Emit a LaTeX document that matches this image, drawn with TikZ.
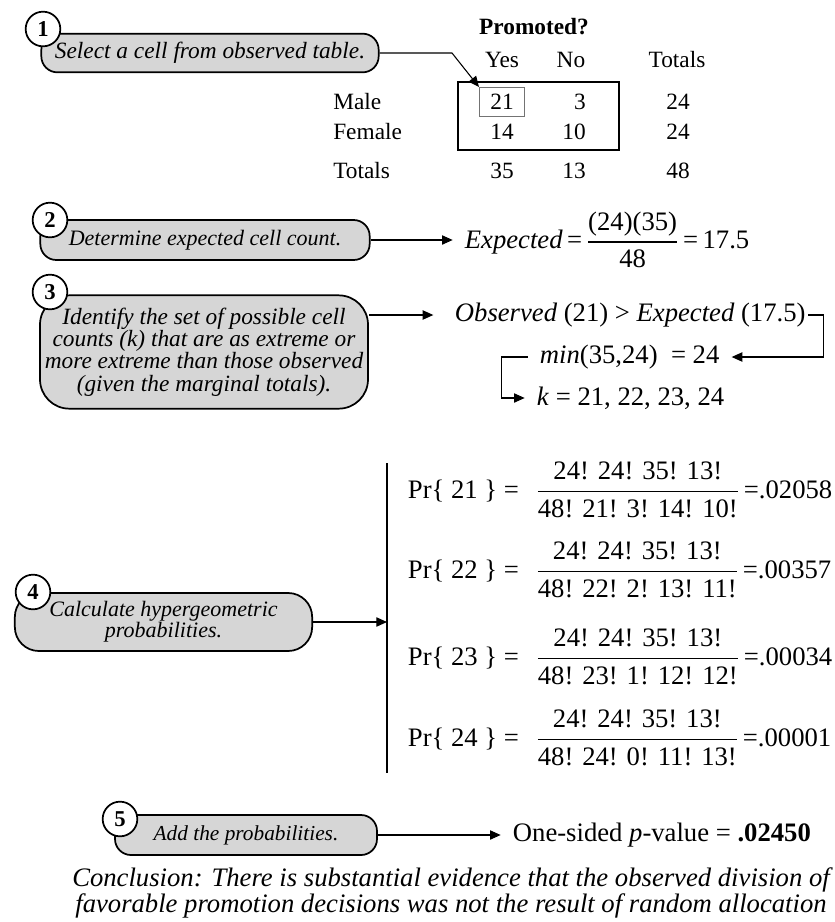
\documentclass[tikz,border=0pt]{standalone}
\usepackage{amsmath}
\usepackage{fontspec}
\setmainfont{Liberation Serif}
\usetikzlibrary{positioning,arrows.meta,calc}

\newcommand\boxfont{\fontsize{17.5}{16.8}\selectfont\itshape}
\newcommand\numfont{\fontsize{17}{17}\selectfont\bfseries}
\newcommand\tabfont{\fontsize{17.5}{20}\selectfont}
\newcommand\eqfont{\fontsize{20}{24}\selectfont}
\newcommand\concfont{\fontsize{20}{19}\selectfont\itshape}
\newcommand\fracbar[2]{\genfrac{}{}{1.1pt}{0}{\text{#1}}{\text{#2}}}

\begin{document}
\begin{tikzpicture}[x=0.75pt, y=-0.75pt,
  every node/.style={inner sep=2pt},
  stepbox/.style={draw, line width=1.3pt, fill=black!16, rounded corners=12pt, align=center, font=\boxfont, inner sep=0pt},
  stepnum/.style={circle, draw, line width=1.3pt, fill=white, minimum size=26pt, inner sep=0pt, font=\numfont},
  tab/.style={font=\tabfont, inner sep=0pt},
  eq/.style={font=\eqfont, anchor=west},
  link/.style={->, line width=0.8pt, shorten >=7pt},
  >={Triangle[length=8pt,width=7pt]}
]
\useasboundingbox (0,0) rectangle (835,922);

% step 1: pick a cell of the table
\node[stepbox, minimum width=253pt, minimum height=29pt] (box1) at (210,53) {Select a cell from observed table.};
\node[stepnum] (num1) at (43,29) {1};

\node[tab, font=\tabfont\bfseries] (promoted) at (534,27) {Promoted?};
\node[tab] (hyes) at (502,60) {Yes};
\node[tab] (hno) at (571,60) {No};
\node[tab] (htot) at (677,60) {Totals};
\node[tab, anchor=west] (male) at (333,102) {Male};
\node[tab, anchor=west] (female) at (333,132) {Female};
\node[tab, anchor=west] (totals) at (333,171) {Totals};

\node[draw, line width=1.4pt, minimum width=121pt, minimum height=51pt] (obs) at (538.5,116) {};
\node[tab, draw=black!55, line width=0.5pt, minimum width=34pt, minimum height=22pt] (c11) at (502,102) {21};
\node[tab, anchor=east] (c12) at (586,102) {3};
\node[tab] (c21) at (502,132) {14};
\node[tab, anchor=east] (c22) at (586,132) {10};
\node[tab] (m1) at (678,102) {24};
\node[tab] (m2) at (678,132) {24};
\node[tab] (t1) at (502,171) {35};
\node[tab, anchor=east] (t2) at (586,171) {13};
\node[tab] (tt) at (678,171) {48};

\coordinate (turn1) at (452,0);
\draw[->, line width=0.8pt] (box1.east) -- (box1.east -| turn1) -- (c11.north west);

% step 2
\node[stepbox, font=\boxfont\fontsize{16.5}{16}\selectfont, minimum width=247pt, minimum height=30pt] (box2) at (205,240) {Determine expected cell count.};
\node[stepnum] (num2) at (50,220) {2};
\node[eq] (expected) at (462,240) {\textit{Expected}\,=\,$\fracbar{(24)(35)}{48}$\,=\,17.5};
\draw[link] (box2.east) -- (expected.west);

% step 3
\node[stepbox, rounded corners=22pt, minimum width=246pt, minimum height=85pt] (box3) at (204,352) {Identify the set of possible cell\\counts (k) that are as extreme or\\more extreme than those observed\\(given the marginal totals).};
\node[stepnum] (num3) at (50,292) {3};
\node[eq] (observed) at (452,315) {\textit{Observed} (21) > \textit{Expected} (17.5)};
\node[eq] (minval) at (537,357) {\textit{min}(35,24)~~= 24};
\node[eq] (kval) at (534,398) {\textit{k} = 21, 22, 23, 24};
\draw[link, shorten >=14pt] (box3.east |- observed.west) -- (observed.west);
\draw[link] (observed.east) -- ++(15,0) |- (minval.east);
\draw[link] ([xshift=-7pt]minval.west) -- ++(-26,0) |- (kval.west);

% step 4
\node[stepbox, font=\boxfont\fontsize{16.5}{16}\selectfont, rounded corners=18pt, minimum width=223pt, minimum height=43.5pt] (box4) at (163.5,622) {Calculate hypergeometric\\probabilities.};
\node[stepnum] (num4) at (33,592) {4};
\coordinate (bartop) at (387,463);
\coordinate (barbot) at (387,773);
\draw[line width=0.9pt] (bartop) -- (barbot);
\draw[->, line width=0.8pt] (box4.east) -- (box4.east -| bartop);

\node[eq] (pr21) at (405,490) {Pr\{ 21 \} =\hspace{13pt}$\fracbar{24! 24! 35! 13!}{48! 21! 3! 14! 10!}$\,=.02058};
\node[eq] (pr22) at (405,570) {Pr\{ 22 \} =\hspace{13pt}$\fracbar{24! 24! 35! 13!}{48! 22! 2! 13! 11!}$\,=.00357};
\node[eq] (pr23) at (405,657) {Pr\{ 23 \} =\hspace{13pt}$\fracbar{24! 24! 35! 13!}{48! 23! 1! 12! 12!}$\,=.00034};
\node[eq] (pr24) at (405,738) {Pr\{ 24 \} =\hspace{13pt}$\fracbar{24! 24! 35! 13!}{48! 24! 0! 11! 13!}$\,=.00001};

% step 5
\node[stepbox, font=\boxfont\fontsize{16}{16}\selectfont, minimum width=196.5pt, minimum height=30pt] (box5) at (246,835) {Add the probabilities.};
\node[stepnum] (num5) at (120,819) {5};
\node[eq] (pvalue) at (510,835) {One-sided \textit{p}-value = \textbf{.02450}};
\draw[link] (box5.east) -- (pvalue.west);

\node[font=\concfont, align=center] (conclusion) at (451,893) {Conclusion: There is substantial evidence that the observed division of\\favorable promotion decisions was not the result of random allocation};
\end{tikzpicture}
\end{document}
